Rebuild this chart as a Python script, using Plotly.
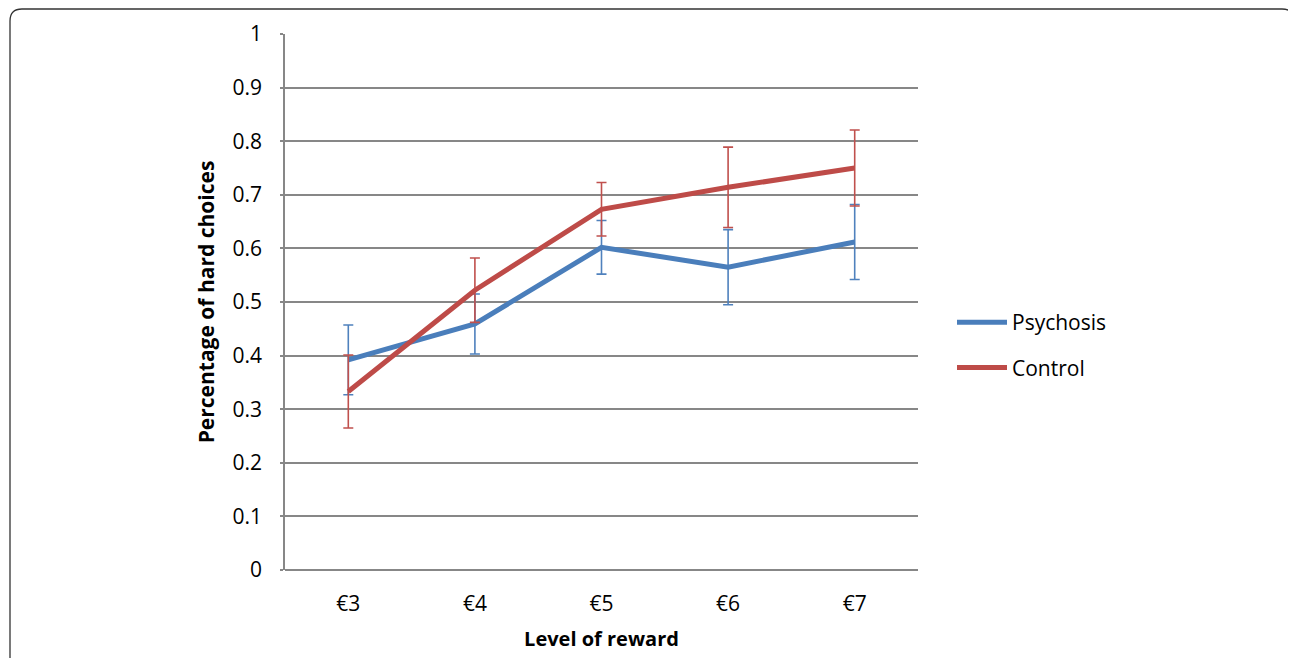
import plotly.graph_objects as go

categories = ["€3", "€4", "€5", "€6", "€7"]
psychosis = [0.392, 0.459, 0.602, 0.565, 0.612]
psychosis_err = [0.065, 0.056, 0.050, 0.070, 0.070]
control = [0.333, 0.522, 0.673, 0.714, 0.750]
control_err = [0.068, 0.060, 0.050, 0.075, 0.071]
y_ticks = [0, 0.1, 0.2, 0.3, 0.4, 0.5, 0.6, 0.7, 0.8, 0.9, 1]
y_ticktext = ["0", "0.1", "0.2", "0.3", "0.4", "0.5", "0.6", "0.7", "0.8", "0.9", "1"]

OFF = 8  # page body margin
W, H = 1296 - OFF, 658 - OFF
L, R, T, B = 285 - OFF, 918 - OFF, 34 - OFF, 570 - OFF

def px(x):
    return (x - OFF - L) / (R - L)

def py(y):
    return (B - (y - OFF)) / (B - T)

FONT = "'Open Sans', Lato, sans-serif"
FS = 21

fig = go.Figure()
fig.add_trace(go.Scatter(
    x=categories, y=psychosis, name="Psychosis", mode="lines",
    line=dict(color="#4A7EBB", width=5),
    error_y=dict(type="data", array=psychosis_err, visible=True,
                 color="#4F81BD", thickness=1.6, width=5),
    legendgroup="a",
))
fig.add_trace(go.Scatter(
    x=categories, y=control, name="Control", mode="lines",
    line=dict(color="#BE4B48", width=5),
    error_y=dict(type="data", array=control_err, visible=True,
                 color="#C0504D", thickness=1.6, width=5),
    legendgroup="b",
))

# rounded frame around the figure
x0, y0, x1, y1, r = 10, 9, 1294, 680, 12
path = (f"M {px(x0)},{py(y0 + r)} "
        f"Q {px(x0)},{py(y0)} {px(x0 + r)},{py(y0)} "
        f"L {px(x1 - r)},{py(y0)} "
        f"Q {px(x1)},{py(y0)} {px(x1)},{py(y0 + r)} "
        f"L {px(x1)},{py(y1)} L {px(x0)},{py(y1)} Z")

fig.update_layout(
    width=W, height=H,
    margin=dict(l=L, r=W - R, t=T, b=H - B, pad=0),
    paper_bgcolor="white", plot_bgcolor="white",
    font=dict(family=FONT, size=FS, color="black"),
    shapes=[dict(type="path", path=path, xref="paper", yref="paper",
                 line=dict(color="#333333", width=1.3), layer="below")],
    legend=dict(x=px(952), y=py(302), xanchor="left", yanchor="top",
                font=dict(size=FS, family=FONT), traceorder="grouped",
                tracegroupgap=15, bgcolor="rgba(0,0,0,0)", itemwidth=50),
    showlegend=True,
)
fig.update_xaxes(
    type="category", range=[-0.5, 4.5],
    showgrid=False, showline=False, ticks="", zeroline=False,
    tickfont=dict(size=FS), ticklabelstandoff=19,
    title=dict(text="<b>Level of reward</b>", font=dict(size=20), standoff=15),
)
fig.update_yaxes(
    range=[0, 1], tickvals=y_ticks, ticktext=y_ticktext,
    showgrid=True, gridcolor="#878787", gridwidth=1.5,
    showline=True, linecolor="#878787", linewidth=1.5,
    zeroline=True, zerolinecolor="#878787", zerolinewidth=1.5,
    ticks="outside", ticklen=3, tickcolor="#878787", tickwidth=1.5,
    ticklabelstandoff=14,
    tickfont=dict(size=FS),
    title=dict(text="<b>Percentage of hard choices</b>", font=dict(size=FS), standoff=12),
)
fig.write_html("out.html")
